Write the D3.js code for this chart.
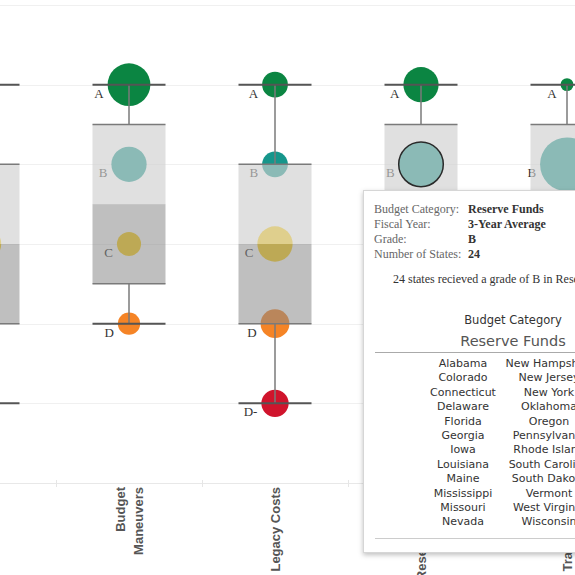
<!DOCTYPE html>
<html><head><meta charset="utf-8">
<script src="https://cdn.jsdelivr.net/npm/d3@7"></script>
<style>html,body{margin:0;padding:0;background:#fff;overflow:hidden}</style>
</head><body>
<svg id="c" width="575" height="575"></svg>
<script>
// ---------- data ----------
const categories = ["Budget Forecasting", "Budget Maneuvers", "Legacy Costs", "Reserve Funds", "Transparency"];
const categoryLines = [["Budget", "Forecasting"], ["Budget", "Maneuvers"], ["Legacy Costs"], ["Reserve Funds"], ["Transparency"]];
const gradeNames = ["A", "B", "C", "D", "D-"];
const gradeValues = [4, 3, 2, 1, 0];
const gradeColors = ["#0b8542", "#16968b", "#fbcf1a", "#f58426", "#d0142c"];
// number of states per grade, one entry per category
const countA      = [10, 22,  8, 15,  2];
const countB      = [14, 15,  8, 24, 35];
const countC      = [16,  7, 15,  8, 10];
const countD      = [ 8,  6, 10,  3,  3];
const countDminus = [ 2,  0,  9,  0,  0];
const gridTicks = [-1, 0, 1, 2, 3, 4, 5];
// tooltip content
const selectedCategory = "Reserve Funds";
const selectedGrade = "B";
const tooltipLabels = ["Budget Category:", "Fiscal Year:", "Grade:", "Number of States:"];
const tooltipValues = ["Reserve Funds", "3-Year Average", "B", "24"];
const tooltipSentence = "24 states recieved a grade of B in Reserve Funds.";
const statesCol1 = ["Alabama","Colorado","Connecticut","Delaware","Florida","Georgia","Iowa","Louisiana","Maine","Mississippi","Missouri","Nevada"];
const statesCol2 = ["New Hampshire","New Jersey","New York","Oklahoma","Oregon","Pennsylvania","Rhode Island","South Carolina","South Dakota","Vermont","West Virginia","Wisconsin"];

// ---------- scales ----------
const svg = d3.select("#c");
const x = d3.scaleBand().domain(categories).range([-90, 640]);
const y = d3.scaleLinear().domain([-1, 5]).range([483, 5]);
const rScale = d3.scaleSqrt().domain([0, 24]).range([0, 22.3]);
const boxW = x.bandwidth() * 0.5;
const cx = c => x(c) + x.bandwidth() / 2;

const countsByGrade = [countA, countB, countC, countD, countDminus];
const marks = [];
categories.forEach((c, i) => {
  gradeNames.forEach((g, j) => {
    const n = countsByGrade[j][i];
    if (n > 0) marks.push({cat: c, grade: g, value: gradeValues[j], count: n, color: gradeColors[j]});
  });
});
function med(a) { const n = a.length; return n % 2 ? a[(n - 1) / 2] : (a[n / 2 - 1] + a[n / 2]) / 2; }
const stats = categories.map(c => {
  const v = marks.filter(m => m.cat === c).map(m => m.value).sort((a, b) => a - b);
  const h = Math.ceil(v.length / 2);
  return {cat: c, min: v[0], max: v[v.length - 1], med: med(v), q1: med(v.slice(0, h)), q3: med(v.slice(v.length - h))};
});

// ---------- gridlines ----------
svg.append("g").selectAll("line").data(gridTicks).join("line")
  .attr("x1", 0).attr("x2", 575)
  .attr("y1", d => Math.round(y(d)) + 0.5).attr("y2", d => Math.round(y(d)) + 0.5)
  .attr("stroke", d => d === -1 ? "#e8e8e8" : "#f0f0f0").attr("stroke-width", 1);
// band separators on the bottom axis
svg.append("g").selectAll("line").data(categories.slice(1)).join("line")
  .attr("x1", d => Math.round(x(d)) + 0.5).attr("x2", d => Math.round(x(d)) + 0.5)
  .attr("y1", y(-1) - 3).attr("y2", y(-1) + 4).attr("stroke", "#e6e6e6");

// ---------- grade labels (under the boxes) ----------
svg.append("g").selectAll("text").data(marks).join("text")
  .attr("x", d => cx(d.cat) - rScale(d.count) - 4)
  .attr("y", d => y(d.value) + 13)
  .attr("text-anchor", "end")
  .attr("font-family", "Liberation Serif, Times New Roman, serif")
  .attr("font-size", 13).attr("fill", "#333")
  .text(d => d.grade);

// ---------- circles ----------
svg.append("g").selectAll("circle").data(marks).join("circle")
  .attr("cx", d => cx(d.cat)).attr("cy", d => y(d.value))
  .attr("r", d => rScale(d.count)).attr("fill", d => d.color);

// ---------- whiskers ----------
const wg = svg.append("g").attr("stroke", "#7a7a7a").attr("stroke-width", 1.5);
stats.forEach(s => {
  wg.append("line").attr("x1", cx(s.cat)).attr("x2", cx(s.cat)).attr("y1", y(s.max)).attr("y2", y(s.q3));
  wg.append("line").attr("x1", cx(s.cat)).attr("x2", cx(s.cat)).attr("y1", y(s.q1)).attr("y2", y(s.min));
});

// ---------- boxes ----------
const bg = svg.append("g");
bg.selectAll("rect.up").data(stats).join("rect").attr("class", "up")
  .attr("x", d => cx(d.cat) - boxW / 2).attr("width", boxW)
  .attr("y", d => y(d.q3)).attr("height", d => y(d.med) - y(d.q3))
  .attr("fill", "rgb(207,207,207)").attr("fill-opacity", 0.64);
bg.selectAll("rect.low").data(stats).join("rect").attr("class", "low")
  .attr("x", d => cx(d.cat) - boxW / 2).attr("width", boxW)
  .attr("y", d => y(d.med)).attr("height", d => y(d.q1) - y(d.med))
  .attr("fill", "rgb(137,137,137)").attr("fill-opacity", 0.54);
const eg = svg.append("g").attr("stroke", "#7a7a7a").attr("stroke-width", 1.5);
stats.forEach(s => {
  [s.q3, s.q1].forEach(v => eg.append("line")
    .attr("x1", cx(s.cat) - boxW / 2).attr("x2", cx(s.cat) + boxW / 2)
    .attr("y1", y(v)).attr("y2", y(v)));
});
const cg = svg.append("g").attr("stroke", "#555").attr("stroke-width", 2);
stats.forEach(s => {
  [s.max, s.min].forEach(v => cg.append("line")
    .attr("x1", cx(s.cat) - boxW / 2).attr("x2", cx(s.cat) + boxW / 2)
    .attr("y1", y(v)).attr("y2", y(v)));
});

// selected mark outline
svg.append("g").selectAll("circle").data(marks.filter(m => m.cat === selectedCategory && m.grade === selectedGrade)).join("circle")
  .attr("cx", d => cx(d.cat)).attr("cy", d => y(d.value)).attr("r", d => rScale(d.count))
  .attr("fill", "none").attr("stroke", "#2a2a2a").attr("stroke-width", 1.5);

// ---------- category labels ----------
const lg = svg.append("g");
categories.forEach((c, i) => {
  const lines = categoryLines[i];
  lines.forEach((t, k) => {
    const bx = cx(c) + 5 + (k - (lines.length - 1) / 2) * 18;
    lg.append("text")
      .attr("transform", `translate(${bx},487) rotate(-90)`)
      .attr("text-anchor", "end")
      .attr("font-family", "Liberation Sans, Arial, sans-serif")
      .attr("font-weight", "bold").attr("font-size", 13).attr("fill", "#555")
      .text(t);
  });
});

// ---------- tooltip ----------
const defs = svg.append("defs");
const f = defs.append("filter").attr("id", "sh").attr("x", "-10%").attr("y", "-10%").attr("width", "130%").attr("height", "130%");
f.append("feDropShadow").attr("dx", 0).attr("dy", 2).attr("stdDeviation", 2.5).attr("flood-color", "#000").attr("flood-opacity", 0.25);
const tt = svg.append("g");
tt.append("rect").attr("x", 363.5).attr("y", 190.5).attr("width", 260).attr("height", 362)
  .attr("fill", "#fff").attr("stroke", "#d6d6d6").attr("filter", "url(#sh)");
const serif = "Liberation Serif, Times New Roman, serif";
tooltipLabels.forEach((t, i) => {
  tt.append("text").attr("x", 374).attr("y", 213 + i * 15).attr("font-family", serif).attr("font-size", 12).attr("fill", "#666").text(t);
  tt.append("text").attr("x", 468).attr("y", 213 + i * 15).attr("font-family", serif).attr("font-size", 12).attr("font-weight", "bold").attr("fill", "#333").text(tooltipValues[i]);
});
tt.append("text").attr("x", 393).attr("y", 283).attr("font-family", serif).attr("font-size", 12).attr("fill", "#333").text(tooltipSentence);
const sans = "DejaVu Sans, Verdana, sans-serif";
tt.append("text").attr("x", 513).attr("y", 324).attr("text-anchor", "middle").attr("font-family", sans).attr("font-size", 11.5).attr("fill", "#333").text("Budget Category");
tt.append("text").attr("x", 513).attr("y", 346).attr("text-anchor", "middle").attr("font-family", sans).attr("font-size", 14.5).attr("fill", "#555").text(selectedCategory);
tt.append("line").attr("x1", 375).attr("x2", 600).attr("y1", 352.5).attr("y2", 352.5).attr("stroke", "#aaa");
[[statesCol1, 463], [statesCol2, 549]].forEach(([arr, px]) => {
  tt.append("g").selectAll("text").data(arr).join("text")
    .attr("x", px).attr("y", (d, i) => 367 + i * 14.4).attr("text-anchor", "middle")
    .attr("font-family", sans).attr("font-size", 11).attr("fill", "#333").text(d => d);
});
tt.append("line").attr("x1", 375).attr("x2", 600).attr("y1", 538.5).attr("y2", 538.5).attr("stroke", "#ccc");
</script>
</body></html>
